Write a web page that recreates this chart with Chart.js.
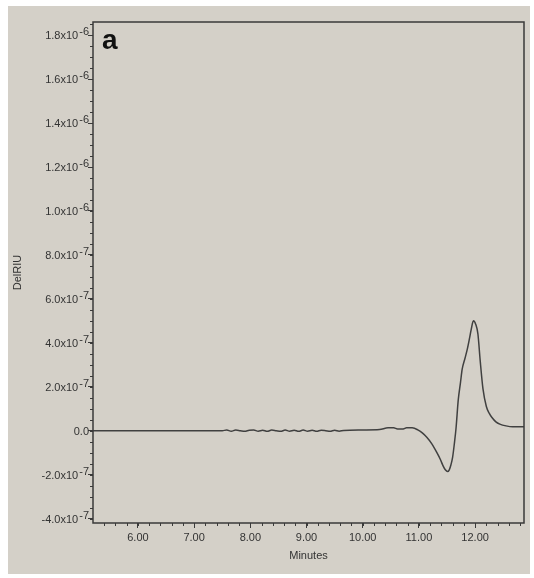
<!DOCTYPE html>
<html>
<head>
<meta charset="utf-8">
<script src="https://cdn.jsdelivr.net/npm/chart.js@4"></script>
<style>
  html, body { margin: 0; padding: 0; background: #fff; }
  #wrap { width: 534px; height: 578px; }
</style>
</head>
<body>
<div id="wrap"><canvas id="myChart" width="534" height="578"></canvas></div>
<script>
// retention time (min) and detector response (DelRIU)
var minutes = [5.2, 6.0, 7.0, 7.5, 7.58, 7.66, 7.74, 7.82, 7.9, 7.98, 8.06, 8.14, 8.22, 8.3, 8.38, 8.46,
  8.54, 8.62, 8.7, 8.78, 8.86, 8.94, 9.02, 9.1, 9.18, 9.26, 9.34, 9.42, 9.5, 9.58, 9.66, 10.0, 10.3,
  10.45, 10.55, 10.62, 10.72, 10.78, 10.88, 10.98, 11.06, 11.14, 11.23, 11.32, 11.38, 11.43, 11.47,
  11.51, 11.54, 11.57, 11.60, 11.63, 11.66, 11.70, 11.74, 11.77, 11.82, 11.86, 11.90, 11.93, 11.97,
  12.01, 12.05, 12.09, 12.14, 12.20, 12.25, 12.30, 12.37, 12.44, 12.55, 12.67, 12.87];
var delRIU = [0, 0, 0, 0, 0.3e-8, -0.2e-8, 0.3e-8, 0, -0.3e-8, 0.2e-8, 0.3e-8, -0.2e-8, 0.2e-8, -0.3e-8, 0.3e-8, 0,
  -0.3e-8, 0.3e-8, -0.2e-8, 0.2e-8, -0.3e-8, 0.3e-8, -0.2e-8, 0.2e-8, -0.3e-8, 0.2e-8, 0, -0.3e-8, 0.2e-8, -0.2e-8, 0.1e-8, 0.3e-8, 0.5e-8,
  1.3e-8, 1.3e-8, 0.8e-8, 0.8e-8, 1.3e-8, 1.3e-8, 0.4e-8, -1.0e-8, -3.0e-8, -6.0e-8, -1.0e-7, -1.3e-7, -1.6e-7, -1.78e-7,
  -1.86e-7, -1.78e-7, -1.55e-7, -1.2e-7, -0.6e-7, 0.1e-7, 1.4e-7, 2.2e-7, 2.8e-7, 3.3e-7, 3.7e-7, 4.2e-7, 4.6e-7, 5.0e-7,
  4.85e-7, 4.4e-7, 3.2e-7, 1.9e-7, 1.1e-7, 0.8e-7, 0.6e-7, 0.4e-7, 0.3e-7, 0.22e-7, 0.18e-7, 0.18e-7];

var xTicks = [6, 7, 8, 9, 10, 11, 12];
var xTickLabels = ["6.00", "7.00", "8.00", "9.00", "10.00", "11.00", "12.00"];
var yTicks = [-4e-7, -2e-7, 0, 2e-7, 4e-7, 6e-7, 8e-7, 1e-6, 1.2e-6, 1.4e-6, 1.6e-6, 1.8e-6];
var yTickMantissa = ["-4.0x10", "-2.0x10", "0.0", "2.0x10", "4.0x10", "6.0x10", "8.0x10",
  "1.0x10", "1.2x10", "1.4x10", "1.6x10", "1.8x10"];
var yTickExponent = ["-7", "-7", "", "-7", "-7", "-7", "-7", "-6", "-6", "-6", "-6", "-6"];

var bg = "#d4d0c8";
var ink = "#3a3a3a";
var fontFam = "'Liberation Sans', Arial, sans-serif";

var points = minutes.map((m, i) => ({x: m, y: delRIU[i]}));

// gray panel, frame, minor ticks, y labels with exponents and the "a" label
var decor = {
  id: "decor",
  beforeDraw(chart) {
    var c = chart.ctx;
    c.save();
    c.fillStyle = "#fff";
    c.fillRect(0, 0, chart.width, chart.height);
    c.fillStyle = bg;
    c.fillRect(8, 6, 522, 568);
    c.restore();
  },
  afterDraw(chart) {
    var c = chart.ctx, a = chart.chartArea;
    var xs = chart.scales.x, ys = chart.scales.y;
    c.save();
    c.strokeStyle = ink;
    c.lineWidth = 1.5;
    c.strokeRect(a.left, a.top, a.right - a.left, a.bottom - a.top);
    c.lineWidth = 1;
    c.beginPath();
    for (var v = 5.4; v < 12.9; v += 0.2) {
      var px = Math.round(xs.getPixelForValue(v)) + 0.5;
      c.moveTo(px, a.bottom); c.lineTo(px, a.bottom + 3);
    }
    for (var w = -4e-7; w < 1.86e-6; w += 5e-8) {
      var py = Math.round(ys.getPixelForValue(w)) + 0.5;
      c.moveTo(a.left, py); c.lineTo(a.left - 3, py);
    }
    c.stroke();

    // y tick labels: mantissa x10 with raised exponent
    c.fillStyle = "#333";
    c.textBaseline = "middle";
    c.textAlign = "left";
    yTicks.forEach((t, i) => {
      var y = ys.getPixelForValue(t) + 1;
      c.font = "11px " + fontFam;
      var wm = c.measureText(yTickMantissa[i]).width;
      c.font = "11px " + fontFam;
      var we = yTickExponent[i] ? c.measureText(yTickExponent[i]).width + 1 : 0;
      var x0 = a.left - 4 - wm - we;
      c.font = "11px " + fontFam;
      c.fillText(yTickMantissa[i], x0, y);
      if (yTickExponent[i]) {
        c.font = "11px " + fontFam;
        c.fillText(yTickExponent[i], x0 + wm + 1, y - 4);
      }
    });

    c.fillStyle = "#111";
    c.font = "bold 28px " + fontFam;
    c.textBaseline = "alphabetic";
    c.fillText("a", a.left + 9, a.top + 27);
    c.restore();
  }
};

new Chart("myChart", {
  type: "line",
  data: {
    datasets: [{
      data: points,
      borderColor: "#404040",
      borderWidth: 1.5,
      pointRadius: 0,
      cubicInterpolationMode: "monotone",
      fill: false
    }]
  },
  options: {
    responsive: false,
    animation: false,
    layout: {padding: {left: 0, top: 22, right: 10, bottom: 0}},
    plugins: {legend: {display: false}, tooltip: {enabled: false}},
    scales: {
      x: {
        type: "linear",
        min: 5.2,
        max: 12.87,
        afterBuildTicks: s => { s.ticks = xTicks.map(v => ({value: v})); },
        afterFit: s => { s.height = 55; },
        grid: {drawOnChartArea: false, tickLength: 5, tickColor: ink, color: ink},
        border: {display: false},
        ticks: {
          color: "#333",
          padding: 3,
          maxRotation: 0,
          font: {family: fontFam, size: 11},
          callback: (v) => xTickLabels[xTicks.indexOf(v)]
        },
        title: {
          display: true,
          text: "Minutes",
          color: "#333",
          font: {family: fontFam, size: 11},
          padding: {top: 0, bottom: 15}
        }
      },
      y: {
        min: -4.2e-7,
        max: 1.86e-6,
        afterBuildTicks: s => { s.ticks = yTicks.map(v => ({value: v})); },
        afterFit: s => { s.width = 93; },
        grid: {drawOnChartArea: false, tickLength: 5, tickColor: ink, color: ink},
        border: {display: false},
        ticks: {display: false},
        title: {
          display: true,
          text: "DelRIU",
          color: "#333",
          font: {family: fontFam, size: 11},
          padding: {top: 11, bottom: 0}
        }
      }
    }
  },
  plugins: [decor]
});
</script>
</body>
</html>
